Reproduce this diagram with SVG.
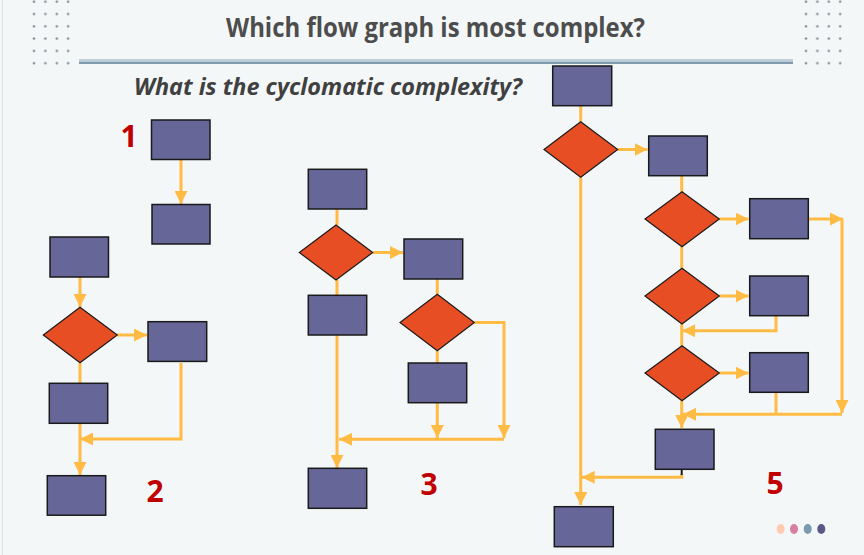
<svg xmlns="http://www.w3.org/2000/svg" width="864" height="555" viewBox="0 0 864 555">
<defs>
<style>
.box{fill:#666699;stroke:#1a1a1a;stroke-width:1.5}
.dia{fill:#E84E24;stroke:#1a1a1a;stroke-width:1.2}
.c{fill:none;stroke:#FFBB44;stroke-width:3}
.a{marker-end:url(#ah)}
.num{font-family:"Open Sans","Liberation Sans",sans-serif;font-weight:bold;font-size:30px;fill:#C00000;text-anchor:middle}
</style>
<marker id="ah" markerUnits="userSpaceOnUse" markerWidth="13" markerHeight="13" refX="13" refY="6.5" orient="auto" viewBox="0 0 13 13">
<path d="M0,0 L13,6.5 L0,13 z" fill="#FFBB44"/>
</marker>
<pattern id="dotsL" x="28.3" y="-4.45" width="11.4" height="12.3" patternUnits="userSpaceOnUse">
<circle cx="5.7" cy="6.15" r="1.3" fill="#858c94"/>
</pattern>
<pattern id="dotsR" x="800.3" y="-4.45" width="11.4" height="12.3" patternUnits="userSpaceOnUse">
<circle cx="5.7" cy="6.15" r="1.3" fill="#858c94"/>
</pattern>
</defs>
<rect x="0" y="0" width="864" height="555" fill="#F4F7F8"/>
<g id="decor">
<line x1="2.5" y1="0" x2="2.5" y2="555" stroke="#E1E5E8" stroke-width="1"/>
<rect x="28.3" y="-4.45" width="45.6" height="73.8" fill="url(#dotsL)"/>
<rect x="800.3" y="-4.45" width="45.6" height="73.8" fill="url(#dotsR)"/>
<line x1="79" y1="60" x2="793" y2="60" stroke="#8EA8BB" stroke-width="1.2"/>
<line x1="79" y1="62.8" x2="793" y2="62.8" stroke="#7F9AAE" stroke-width="2.6"/>
<ellipse cx="780.7" cy="529" rx="4" ry="5" fill="#FFCBB0"/>
<ellipse cx="794" cy="529" rx="4" ry="5" fill="#D67FA0"/>
<ellipse cx="807.7" cy="529" rx="4" ry="5" fill="#7A9AB0"/>
<ellipse cx="821.3" cy="529" rx="4" ry="5" fill="#5E5588"/>
</g>
<g id="titles">
<text x="226" y="36.5" textLength="419" lengthAdjust="spacingAndGlyphs" font-family="'Open Sans','Liberation Sans',sans-serif" font-weight="bold" font-size="26" fill="#4D4D4D">Which flow graph is most complex?</text>
<text x="134" y="95" textLength="388" lengthAdjust="spacingAndGlyphs" font-family="'Open Sans','Liberation Sans',sans-serif" font-weight="bold" font-style="italic" font-size="23" fill="#404040">What is the cyclomatic complexity?</text>
<text class="num" x="129" y="147">1</text>
<text class="num" x="155" y="502">2</text>
<text class="num" x="429" y="495">3</text>
<text class="num" x="775" y="494">5</text>
</g>
<g id="connectors">
<line class="c a" x1="181" y1="160" x2="181" y2="204"/>
<line class="c a" x1="80" y1="277" x2="80" y2="307"/>
<line class="c a" x1="117" y1="335" x2="147" y2="335"/>
<line class="c" x1="80" y1="363" x2="80" y2="383"/>
<line class="c a" x1="80" y1="423" x2="80" y2="475"/>
<polyline class="c a" points="181,363 181,439 80,439"/>
<line class="c" x1="337" y1="209" x2="337" y2="225"/>
<line class="c a" x1="373" y1="252.5" x2="403" y2="252.5"/>
<line class="c" x1="337" y1="280" x2="337" y2="295"/>
<line class="c a" x1="337" y1="335" x2="337" y2="468"/>
<line class="c" x1="437.3" y1="279" x2="437.3" y2="294.3"/>
<line class="c" x1="437.3" y1="350.7" x2="437.3" y2="363"/>
<line class="c a" x1="437.3" y1="403" x2="437.3" y2="438"/>
<polyline class="c a" points="474.3,322.5 504,322.5 504,438"/>
<line class="c a" x1="504" y1="439.3" x2="339" y2="439.3"/>
<line class="c" x1="580.7" y1="106" x2="580.7" y2="121.7"/>
<line class="c a" x1="617.7" y1="149.5" x2="647.5" y2="149.5"/>
<line class="c a" x1="580.7" y1="177.3" x2="580.7" y2="505"/>
<line class="c" x1="681.7" y1="175.7" x2="681.7" y2="191.7"/>
<line class="c a" x1="719.3" y1="219" x2="748.5" y2="219"/>
<line class="c a" x1="808.3" y1="219" x2="843" y2="219"/>
<line class="c a" x1="842" y1="219" x2="842" y2="413"/>
<line class="c" x1="681.7" y1="246.7" x2="681.7" y2="268.3"/>
<line class="c a" x1="719.3" y1="296" x2="748.5" y2="296"/>
<polyline class="c a" points="776,315.7 776,330.7 682,330.7"/>
<line class="c" x1="681.7" y1="324" x2="681.7" y2="345.7"/>
<line class="c a" x1="719.3" y1="373" x2="748.5" y2="373"/>
<line class="c" x1="776" y1="392.3" x2="776" y2="414.3"/>
<line class="c a" x1="842" y1="414.3" x2="683" y2="414.3"/>
<line class="c a" x1="681.7" y1="400.7" x2="681.7" y2="428"/>
<polyline class="c a" points="681.7,474 681.7,477.3 581.7,477.3"/>
<line x1="681.7" y1="469.3" x2="681.7" y2="475" stroke="#1a1a1a" stroke-width="2"/>
</g>
<g id="graph1">
<rect class="box" x="151.5" y="120" width="58.5" height="39.5"/>
<rect class="box" x="152" y="204.5" width="58" height="39.5"/>
</g>
<g id="graph2">
<rect class="box" x="50" y="237" width="58.5" height="40"/>
<polygon class="dia" points="80,307.3 117.3,335 80,362.7 43.3,335"/>
<rect class="box" x="148" y="321.7" width="58.7" height="39.7"/>
<rect class="box" x="49.3" y="383.3" width="58.4" height="40"/>
<rect class="box" x="47.3" y="475.7" width="58.4" height="39.5"/>
</g>
<g id="graph3">
<rect class="box" x="308.3" y="169.3" width="58.4" height="39.7"/>
<polygon class="dia" points="336,225 372.7,252.5 336,280 299.3,252.5"/>
<rect class="box" x="404" y="239" width="58.7" height="40"/>
<rect class="box" x="308.3" y="295.3" width="58.4" height="39.7"/>
<polygon class="dia" points="437.3,294.3 474.3,322.5 437.3,350.7 400,322.5"/>
<rect class="box" x="408.3" y="363" width="58.4" height="39.7"/>
<rect class="box" x="308.3" y="468.3" width="58.4" height="40"/>
</g>
<g id="graph5">
<rect class="box" x="552.7" y="66" width="59" height="39.7"/>
<polygon class="dia" points="580.7,121.7 617.7,149.5 580.7,177.3 544,149.5"/>
<rect class="box" x="648.7" y="136" width="58.6" height="39.7"/>
<polygon class="dia" points="682,191.7 719.3,219 682,246.7 645,219"/>
<rect class="box" x="749.7" y="198.7" width="58.6" height="40"/>
<polygon class="dia" points="682,268.3 719.3,296 682,324 645,296"/>
<rect class="box" x="749.7" y="276" width="58.6" height="39.7"/>
<polygon class="dia" points="682,345.7 719.3,373 682,400.7 645,373"/>
<rect class="box" x="749.7" y="352.7" width="58.6" height="39.6"/>
<rect class="box" x="655.3" y="429.3" width="58.7" height="40"/>
<rect class="box" x="554.3" y="506.7" width="59" height="40"/>
</g>
</svg>
